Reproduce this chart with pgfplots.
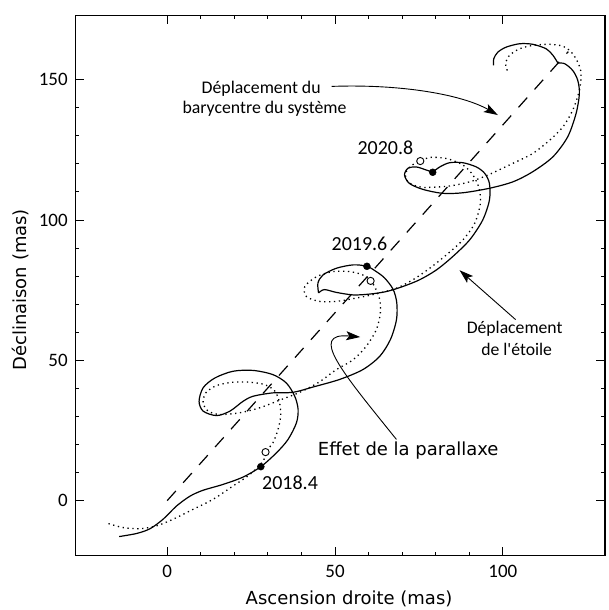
\documentclass[border=0pt]{standalone}
\usepackage{pgfplots}
\pgfplotsset{compat=1.18}
\usepackage{fontspec}
\setmainfont{Carlito}
\newfontfamily\dejavu{DejaVu Sans}
\usetikzlibrary{arrows.meta}
\begin{document}
\begin{tikzpicture}
\path (0,0) rectangle (609bp,610bp);
\begin{axis}[
  at={(75.3bp,54bp)}, anchor=south west,
  scale only axis, width=530.3bp, height=540.3bp,
  xmin=-27.4, xmax=130.4, ymin=-19.5, ymax=172.8,
  xtick={0,50,100}, ytick={0,50,100,150},
  minor x tick num=4, minor y tick num=4,
  tick align=inside,
  major tick length=8.7bp, minor tick length=3.7bp,
  every tick/.style={line width=0.9bp, black},
  axis line style={line width=1.2bp},
  tick label style={font=\fontsize{19bp}{22bp}\selectfont},
  /pgf/number format/assume math mode=true,
  xticklabel style={yshift=-6bp},
  yticklabel style={xshift=-4bp},
  xlabel={Ascension droite (mas)},
  ylabel={Déclinaison (mas)},
  label style={font=\dejavu\fontsize{18bp}{22bp}\selectfont},
  xlabel style={at={(axis description cs:0.517,-0.0907)}, anchor=base},
  ylabel style={at={(axis description cs:-0.0916,0.492)}, anchor=base},
]
% barycentre (dashed)
\addplot[black, line width=1.2bp, dash pattern=on 13bp off 11bp] coordinates {(0,0) (119.5,160)};
% parallax only (dotted)
\addplot[black, line width=1.3bp, dash pattern=on 1.3bp off 3.6bp, smooth] coordinates {
(-17.5,-8.2) (-13.1,-9.6) (-8.1,-10.0) (-3.2,-9.0) (1.8,-6.6) (7.7,-3.1) (13.7,0.5)
(19.6,5.2) (24.6,9.3) (28.6,14.1) (29.3,17.3) (31.5,20.6) (33.0,25.3) (33.8,30.1)
(33.5,34.8) (32.1,39.0) (29.1,41.3) (24.6,42.2) (19.6,42.2) (14.7,41.0) (11.5,38.4)
(10.7,34.8) (12.2,31.9) (15.7,30.7) (21.6,31.3) (27.6,33.1) (33.5,35.8) (39.5,38.6)
(45.2,42.2) (50.4,46.7) (55.4,50.2) (59.3,55.0) (62.3,60.9) (63.5,66.8) (63.3,71.8)
(61.8,76.3) (60.6,78.3) (58.3,80.4) (54.4,81.6) (49.4,81.6) (44.5,79.8) (41.0,76.3)
(41.5,72.7) (45.4,71.0) (50.4,71.0) (56.4,72.2) (62.3,73.7) (68.3,75.7) (73.2,78.7)
(78.2,82.8) (83.2,87.6) (88.1,92.9) (91.6,98.8) (93.3,105.9) (92.9,111.3) (91.1,116.0)
(88.1,119.6) (83.2,121.9) (78.2,122.3) (75.4,121.0) (72.5,119.2) (71.0,116.5)
(71.7,113.6) (74.5,112.0) (77.2,111.6) (84.1,112.1) (90.1,113.6) (95.5,116.0)
(103.0,120.2) (108.9,123.7) (113.9,128.4) (117.9,133.2) (120.8,139.1) (122.8,146.2)
(123.3,152.2) (122.3,156.3) (120.4,159.8) (117.9,161.9) (113.9,162.6) (108.9,162.2)
(105.0,161.0) (102.0,158.7) (100.8,155.7) (101.5,152.7)};
% star path (solid), split at cusps
\addplot[black, line width=1.2bp, smooth] coordinates {
(-14.3,-12.8) (-9.1,-11.7) (-5.1,-10.0) (-1.2,-6.6) (2.8,-1.9) (6.8,1.6) (10.7,3.7)
(16.7,5.8) (22.6,8.4) (27.9,12.1) (32.6,17.1) (36.0,21.8) (38.5,27.7) (39.0,32.5)
(38.0,37.2) (35.5,41.9) (31.5,44.9) (25.6,46.4) (19.6,46.1) (14.2,43.7) (10.7,40.2)
(9.5,35.4) (10.7,31.9) (14.7,30.3) (18.7,31.9) (22.6,35.4) (25.6,37.2) (31.5,38.4)
(37.5,38.6) (43.5,40.5) (51.4,43.2) (58.3,46.7) (63.3,51.4) (66.5,57.4) (68.3,64.4)
(68.4,70.5) (67.3,75.3) (64.8,79.3) (62.3,81.6) (59.5,83.5) (55.4,84.0) (50.4,82.8)
(46.4,80.4) (44.9,77.5) (45.1,74.0)};
\addplot[black, line width=1.2bp, smooth] coordinates {
(45.1,74.0) (46.8,75.2) (50.4,74.2) (55.4,73.3) (60.3,73.6) (65.3,74.5) (70.2,76.3)
(75.2,78.7) (80.2,82.2) (85.1,87.0) (90.1,92.9) (94.0,100.0) (96.0,107.1) (96.0,113.0)
(94.6,116.6) (92.1,118.9) (88.1,120.4) (84.1,120.4) (81.2,118.9) (79.1,117.0)};
\addplot[black, line width=1.2bp, smooth] coordinates {
(79.1,117.0) (77.2,117.8) (74.2,118.9) (71.7,118.4) (70.7,116.0) (72.2,113.0)
(76.2,110.9) (82.1,109.5) (88.1,109.7) (96.0,111.3) (103.0,113.6) (108.9,117.2)
(114.9,122.5) (119.3,129.6) (121.8,137.9) (122.8,145.0) (122.3,149.8) (120.8,153.3)
(118.4,155.7) (116.4,155.9)};
\addplot[black, line width=1.2bp, smooth] coordinates {
(116.4,155.9) (114.9,158.7) (112.9,161.0) (108.9,162.6) (105.0,162.8) (101.0,161.6)
(98.5,159.8) (97.3,157.5) (97.2,155.1)};
% epochs
\addplot[only marks, mark=*, mark size=3.5bp, black] coordinates {(27.9,12.1) (59.5,83.5) (79.1,117.0)};
\addplot[only marks, mark=*, mark size=3.6bp, draw=black, fill=white, mark options={line width=0.9bp}] coordinates {(29.3,17.3) (60.6,78.3) (75.4,121.0)};
% labels
\node[anchor=base, font=\fontsize{20bp}{24bp}\selectfont] at (axis cs:36.6,4.0) {2018.4};
\node[anchor=base, font=\fontsize{20bp}{24bp}\selectfont] at (axis cs:57.3,89.2) {2019.6};
\node[anchor=base, font=\fontsize{20bp}{24bp}\selectfont] at (axis cs:65.0,123.2) {2020.8};
\node[anchor=base, font=\fontsize{17.8bp}{21bp}\selectfont] at (axis cs:28.0,144.9) {Déplacement du};
\node[anchor=base, font=\fontsize{17.8bp}{21bp}\selectfont] at (axis cs:29.0,137.8) {barycentre du système};
\node[anchor=base, font=\fontsize{17.7bp}{21bp}\selectfont] at (axis cs:103.5,59.6) {Déplacement};
\node[anchor=base, font=\fontsize{17.7bp}{21bp}\selectfont] at (axis cs:104.1,51.7) {de l\textquotesingle étoile};
\node[anchor=base, font=\dejavu\fontsize{18bp}{22bp}\selectfont] at (axis cs:71.8,16.1) {Effet de la parallaxe};
% arrows
\draw[line width=0.9bp, -{Stealth[length=14bp,width=9bp,inset=3bp]}] (axis cs:49.0,147.6) .. controls (axis cs:70,148.5) and (axis cs:88,144.6) .. (axis cs:98.5,137.4);
\draw[line width=0.9bp, -{Stealth[length=14bp,width=9bp,inset=3bp]}] (axis cs:103.8,64.5) -- (axis cs:87.1,82.1);
\draw[line width=0.9bp, -{Stealth[length=14bp,width=9bp,inset=3bp]}] (axis cs:68.3,21.8) .. controls (axis cs:52,46) and (axis cs:42,60) .. (axis cs:57.5,58.3);
\end{axis}
\end{tikzpicture}
\end{document}
